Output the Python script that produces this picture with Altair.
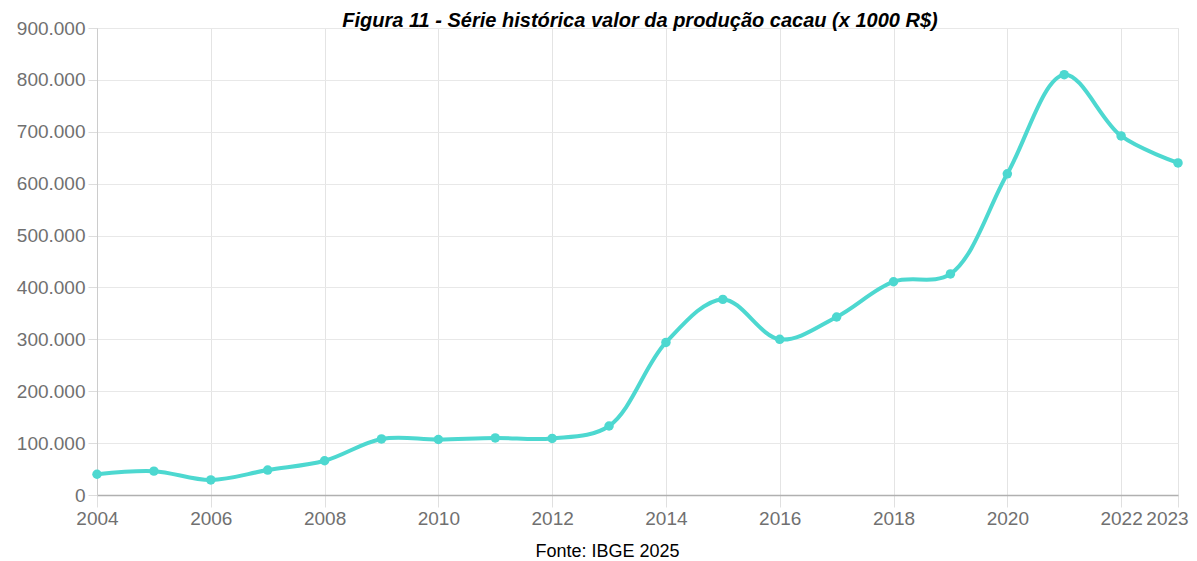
import altair as alt
import pandas as pd

years = list(range(2004, 2024))
values = [40000, 46000, 29000, 48000, 66000, 108000, 107000, 110000, 109000, 133000,
          294000, 377000, 300000, 343000, 411000, 426000, 619000, 810000, 692000, 640000]
x_ticks = [2004, 2006, 2008, 2010, 2012, 2014, 2016, 2018, 2020, 2022, 2023]
y_ticks = [0, 100000, 200000, 300000, 400000, 500000, 600000, 700000, 800000, 900000]

title_text = "Figura 11 - Série histórica valor da produção cacau (x 1000 R$)"
source_text = "Fonte: IBGE 2025"

df = pd.DataFrame({"ano": years, "valor": values})
title_df = pd.DataFrame({"t": [title_text]})

COLOR = "#4dd8d0"
FONT = "Liberation Sans"

x_enc = alt.X(
    "ano:Q",
    scale=alt.Scale(domain=[2004, 2023], nice=False, zero=False),
    axis=alt.Axis(
        values=x_ticks, format="d", grid=True, gridColor="#e4e4e4",
        domainColor="#b0b0b0", domainWidth=1.5,
        tickColor="#e0e0e0", tickSize=12, labelPadding=2,
        labelFont=FONT, labelFontSize=19, labelColor="#707070",
        labelFlush=False, labelOverlap=False,
        labelOffset={"expr": "datum.value == 2023 ? -11 : 0"},
        title=source_text, titleFont=FONT, titleFontSize=18,
        titleFontWeight="normal", titleColor="#000000",
        titleX=510, titleY=61, titleBaseline="alphabetic", titleAlign="center",
    ),
)
y_enc = alt.Y(
    "valor:Q",
    scale=alt.Scale(domain=[0, 900000], nice=False),
    axis=alt.Axis(
        values=y_ticks, grid=True, gridColor="#e8e8e8",
        domainColor="#cccccc", tickColor="#dddddd", tickSize=9, labelPadding=3,
        labelFont=FONT, labelFontSize=19, labelColor="#707070",
        labelExpr="replace(format(datum.value, ','), ',', '.')",
        title=None,
    ),
)

base = alt.Chart(df).encode(x=x_enc, y=y_enc)
line = base.mark_line(interpolate="catmull-rom", color=COLOR, strokeWidth=4)
pts = base.mark_point(filled=True, size=90, color=COLOR, opacity=1)

title_mark = alt.Chart(title_df).mark_text(
    font=FONT, fontSize=20, fontStyle="italic", fontWeight="bold",
    color="#000000", align="center", baseline="alphabetic",
).encode(text="t:N", x=alt.value(543), y=alt.value(-1))

chart = (
    alt.layer(line, pts, title_mark)
    .properties(
        width=1081,
        height=467,
        autosize=alt.AutoSizeParams(type="none"),
        padding={"left": 89, "top": 20, "right": 11, "bottom": 66},
    )
    .configure_view(stroke=None)
    .configure(background="white")
)

chart.save("out.html", embed_options={"renderer": "svg", "actions": False})
